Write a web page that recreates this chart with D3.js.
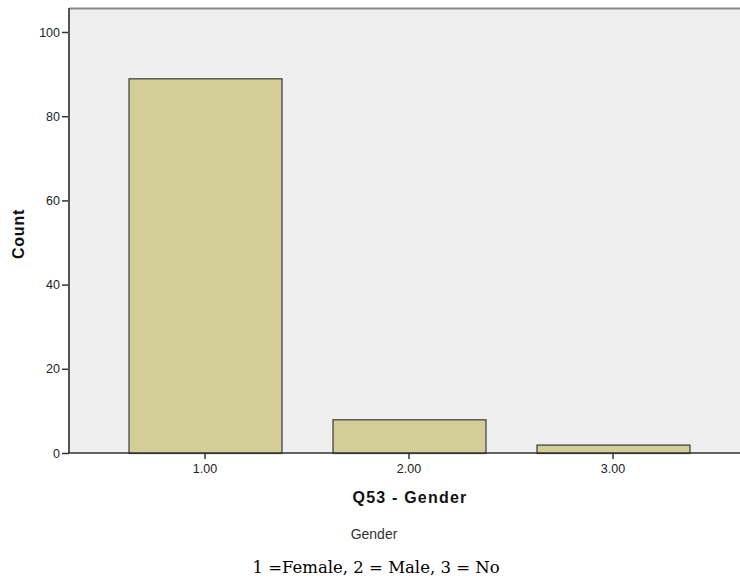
<!DOCTYPE html>
<html><head><meta charset="utf-8">
<script src="https://cdn.jsdelivr.net/npm/d3@7"></script>
<style>html,body{margin:0;padding:0;background:#fff;}svg{display:block;}</style>
</head><body>
<svg id="chart" width="740" height="579"></svg>
<script>
const categories = ["1.00", "2.00", "3.00"];
const counts = [89, 8, 2];
const yTicks = [0, 20, 40, 60, 80, 100];

const svg = d3.select("#chart");
const pLeft = 69, pRight = 749, pTop = 8, pBottom = 453;
const sans = "Liberation Sans, Arial, sans-serif";

svg.append("rect").attr("x", pLeft).attr("y", pTop).attr("width", pRight - pLeft).attr("height", pBottom - pTop).attr("fill", "#efefef");
svg.append("line").attr("x1", pLeft).attr("x2", 740).attr("y1", pTop + 0.5).attr("y2", pTop + 0.5).attr("stroke", "#8a8a8a").attr("stroke-width", 2);

const x = d3.scaleBand().domain(categories).range([pLeft, pRight]).paddingInner(0.25).paddingOuter(0.2917);
const y = d3.scaleLinear().domain([0, 100]).range([453, 32]);

svg.selectAll("rect.bar").data(counts).enter().append("rect")
  .attr("class", "bar")
  .attr("x", (d, i) => x(categories[i]) + 0.5)
  .attr("y", d => y(d) + 0.5)
  .attr("width", x.bandwidth())
  .attr("height", d => y(0) - y(d))
  .attr("fill", "#d3ce98")
  .attr("stroke", "#3a3a3a")
  .attr("stroke-width", 1.2);

const yAxis = svg.append("g").attr("transform", `translate(${pLeft},0)`)
  .call(d3.axisLeft(y).tickValues(yTicks).tickSize(7).tickPadding(2).tickSizeOuter(0));
yAxis.select(".domain").remove();
yAxis.selectAll(".tick line").attr("stroke", "#333").attr("stroke-width", 1.5);
yAxis.selectAll("text").attr("font-family", sans).attr("font-size", 12.5).attr("fill", "#222");
svg.append("line").attr("x1", pLeft).attr("x2", pLeft).attr("y1", pTop).attr("y2", pBottom)
  .attr("stroke", "#555").attr("stroke-width", 2);

const xAxis = svg.append("g").attr("transform", `translate(0,${pBottom})`)
  .call(d3.axisBottom(x).tickSize(6).tickPadding(5).tickSizeOuter(0));
xAxis.select(".domain").remove();
xAxis.selectAll(".tick line").attr("stroke", "#333").attr("stroke-width", 1.5);
xAxis.selectAll("text").attr("font-family", sans).attr("font-size", 12.5).attr("fill", "#222");
svg.append("line").attr("x1", pLeft - 1).attr("x2", 740).attr("y1", pBottom).attr("y2", pBottom)
  .attr("stroke", "#333").attr("stroke-width", 1.5);

svg.append("text").attr("transform", "translate(24,234) rotate(-90)")
  .attr("text-anchor", "middle").attr("font-family", sans)
  .attr("font-size", 16).attr("font-weight", "bold").attr("letter-spacing", 0.8).attr("fill", "#111").text("Count");

svg.append("text").attr("x", 410).attr("y", 503).attr("text-anchor", "middle")
  .attr("font-family", sans).attr("font-size", 16).attr("font-weight", "bold").attr("letter-spacing", 1.2).attr("fill", "#111")
  .text("Q53 - Gender");

svg.append("text").attr("x", 374).attr("y", 539).attr("text-anchor", "middle")
  .attr("font-family", sans).attr("font-size", 14).attr("fill", "#333")
  .text("Gender");

svg.append("text").attr("x", 376).attr("y", 573).attr("text-anchor", "middle")
  .attr("font-family", "DejaVu Serif, Liberation Serif, serif").attr("font-size", 16.5).attr("fill", "#000")
  .text("1 =Female, 2 = Male, 3 = No");
</script>
</body></html>
